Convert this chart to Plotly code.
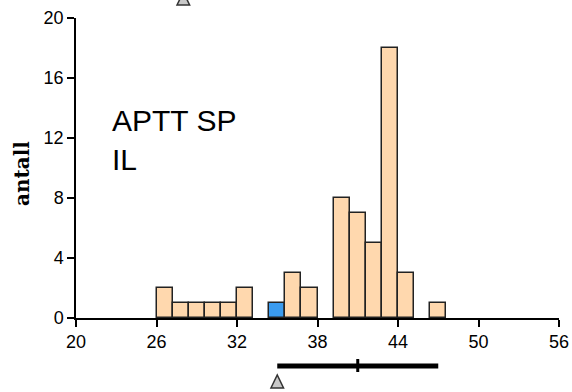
import plotly.graph_objects as go

# ---- data ----
bin_start = 26.0
bin_width = 1.2
counts = [2, 1, 1, 1, 1, 2, 0, 1, 3, 2, 0, 8, 7, 5, 18, 3, 0, 1]
highlight_bin = 7            # own lab's bin (blue)
x_ticks = [20, 26, 32, 38, 44, 50, 56]
y_ticks = [0, 4, 8, 12, 16, 20]
top_marker_x = 28.0          # triangle above plot
own_value_x = 35.0           # triangle below axis
range_low, range_high, range_mid = 35.0, 47.0, 41.0
label_text = "APTT SP<br>IL"

centers, heights, colors = [], [], []
for i, c in enumerate(counts):
    if c == 0:
        continue
    centers.append(bin_start + bin_width * (i + 0.5))
    heights.append(c)
    colors.append("#3A9BEF" if i == highlight_bin else "#FFD8AE")

fig = go.Figure()
fig.add_trace(go.Bar(
    x=centers, y=heights, width=bin_width,
    marker=dict(color=colors, line=dict(color="#222222", width=1.5)),
    showlegend=False, hoverinfo="skip"))

# plot area: 300 px tall; helpers to place marks below/above in paper units
PLOT_H = 300.0
X_PER_PX = 36.0 / 483.0


def tri_path(xc, apex_px, base_px, half_w_px=6.3):
    hw = half_w_px * X_PER_PX
    ya = -apex_px / PLOT_H
    yb = -base_px / PLOT_H
    return f"M {xc - hw},{yb} L {xc + hw},{yb} L {xc},{ya} Z"


# triangles (px offsets measured from the x-axis line, positive = downward)
for xc, apex, base in [(top_marker_x, -326, -313), (own_value_x, 57, 70)]:
    fig.add_shape(type="path", xref="x", yref="paper",
                  path=tri_path(xc, apex, base),
                  fillcolor="#C8C8C8", line=dict(color="#333333", width=1.5))

# range bar and mid tick
fig.add_shape(type="line", xref="x", yref="paper",
              x0=range_low, x1=range_high, y0=-48 / PLOT_H, y1=-48 / PLOT_H,
              line=dict(color="black", width=5))
fig.add_shape(type="line", xref="x", yref="paper",
              x0=range_mid, x1=range_mid, y0=-41 / PLOT_H, y1=-54 / PLOT_H,
              line=dict(color="black", width=3))

fig.add_annotation(text=label_text, xref="x", yref="y", x=22.55, y=11.9,
                   xanchor="left", yanchor="middle", align="left",
                   showarrow=False,
                   font=dict(family="Liberation Sans, Arial", size=30, color="black"))

fig.add_annotation(text="<b>antall</b>", xref="paper", yref="paper",
                   x=-0.112, y=0.483, textangle=-90, showarrow=False,
                   xanchor="center", yanchor="middle",
                   font=dict(family="DejaVu Serif", size=20, color="black"))

fig.update_layout(
    width=572, height=392,
    margin=dict(l=76, r=13, t=18, b=74, autoexpand=False),
    plot_bgcolor="white", paper_bgcolor="white",
    bargap=0,
    font=dict(family="Liberation Sans, Arial", size=18, color="black"),
    xaxis=dict(range=[20, 56], tickvals=x_ticks, ticks="outside", ticklen=7,
               tickwidth=1.5, tickcolor="black", automargin=False,
               showline=True, linecolor="black", linewidth=1.5,
               showgrid=False, zeroline=False, fixedrange=True),
    yaxis=dict(range=[0, 20], tickvals=y_ticks, ticks="outside", ticklen=7,
               tickwidth=1.5, tickcolor="black", automargin=False,
               showline=True, linecolor="black", linewidth=1.5,
               showgrid=False, zeroline=False, fixedrange=True),
)

fig.write_html("out.html")
